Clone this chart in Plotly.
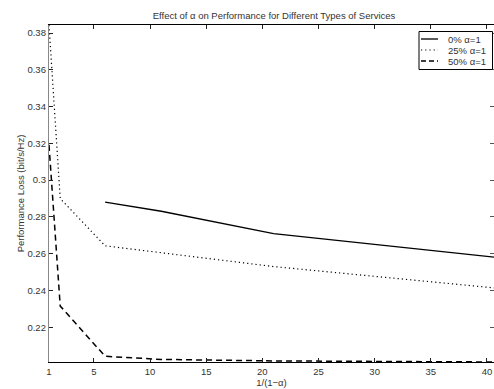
import plotly.graph_objects as go

x_vals = [1, 2, 6, 11, 21, 41]
x_solid = [6, 11, 21, 41]
solid_0 = [0.2880, 0.2831, 0.2709, 0.2579]
dotted_25 = [0.3844, 0.2900, 0.2643, 0.2604, 0.2530, 0.2412]
dashed_50 = [0.3192, 0.2315, 0.2042, 0.2025, 0.2017, 0.2011]

names = ["0% \u03b1=1", "25% \u03b1=1", "50% \u03b1=1"]
x_ticks = [1, 5, 10, 15, 20, 25, 30, 35, 40]
y_ticks = [0.22, 0.24, 0.26, 0.28, 0.30, 0.32, 0.34, 0.36, 0.38]
y_ticktext = ["0.22", "0.24", "0.26", "0.28", "0.3", "0.32", "0.34", "0.36", "0.38"]

FONT = "Liberation Sans, Arial, Helvetica, sans-serif"
TXT = "#333333"
W, H = 494, 389
L, R, T, B = 49, 0, 25, 27
PW, PH = W - L - R, H - T - B

def px(xp):
    return (xp - L) / PW

def py(yp):
    return 1 - (yp - T) / PH

styles = [dict(color="black", width=1.3, dash="solid"),
          dict(color="black", width=1.2, dash="1.2px,3px"),
          dict(color="black", width=1.5, dash="6px,4px")]

fig = go.Figure()
fig.add_trace(go.Scatter(x=x_solid, y=solid_0, mode="lines", name=names[0], line=styles[0]))
fig.add_trace(go.Scatter(x=x_vals, y=dotted_25, mode="lines", name=names[1], line=styles[1]))
fig.add_trace(go.Scatter(x=x_vals, y=dashed_50, mode="lines", name=names[2], line=styles[2]))
fig.add_trace(go.Scatter(x=[1], y=[0.3], yaxis="y2", mode="markers",
                         marker=dict(opacity=0), showlegend=False, hoverinfo="skip"))

# manual legend (Matlab style)
shapes = [dict(type="rect", xref="paper", yref="paper",
               x0=px(419), x1=px(492.5), y0=py(69.5), y1=py(31.5),
               line=dict(color="black", width=1), fillcolor="white", layer="above")]
annotations = []
row_y = [39, 50, 61]
legend_dash = ["solid", "1.2px,3px", "5px,3px"]
for i in range(3):
    st = styles[i]
    shapes.append(dict(type="line", xref="paper", yref="paper",
                       x0=px(421), x1=px(438), y0=py(row_y[i]), y1=py(row_y[i]),
                       line=dict(color="black", width=st["width"], dash=legend_dash[i]),
                       layer="above"))
    annotations.append(dict(text=names[i], xref="paper", yref="paper",
                            x=px(446), y=py(row_y[i]), xanchor="left", yanchor="middle",
                            showarrow=False, font=dict(size=9.5, color=TXT)))

yrange = [0.2011, 0.3844]
fig.update_layout(
    width=W, height=H,
    margin=dict(l=L, r=R, t=T, b=B),
    paper_bgcolor="white", plot_bgcolor="white",
    font=dict(family=FONT, size=9, color=TXT),
    title=dict(text="Effect of \u03b1 on Performance for Different Types of Services",
               x=px(274), xanchor="center", xref="paper", y=1 - 15.5 / H, yanchor="middle",
               font=dict(size=9.5, color=TXT)),
    xaxis=dict(range=[1, 40.63], tickvals=x_ticks, ticks="inside", ticklen=4,
               tickcolor="#222", showline=True, linecolor="black", linewidth=1.3,
               mirror="ticks", showgrid=False, zeroline=False,
               title=dict(text="1/(1\u2212\u03b1)", standoff=2, font=dict(size=9.5)),
               tickfont=dict(size=9.5)),
    yaxis=dict(range=yrange, tickvals=y_ticks, ticktext=y_ticktext, ticks="inside",
               ticklen=4, tickcolor="#222", showline=True, linecolor="#888",
               linewidth=1.3, showgrid=False, zeroline=False,
               title=dict(text="Performance Loss (bit/s/Hz)", standoff=1, font=dict(size=9.5)),
               tickfont=dict(size=9.5)),
    yaxis2=dict(range=yrange, overlaying="y", side="right", tickvals=y_ticks,
                showticklabels=False, ticks="inside", ticklen=4, tickcolor="#555",
                showline=False, showgrid=False, zeroline=False),
    shapes=shapes, annotations=annotations,
    showlegend=False,
)
fig.write_html("out.html", config={"displayModeBar": False},
               post_script="document.body.style.margin='0px';")
